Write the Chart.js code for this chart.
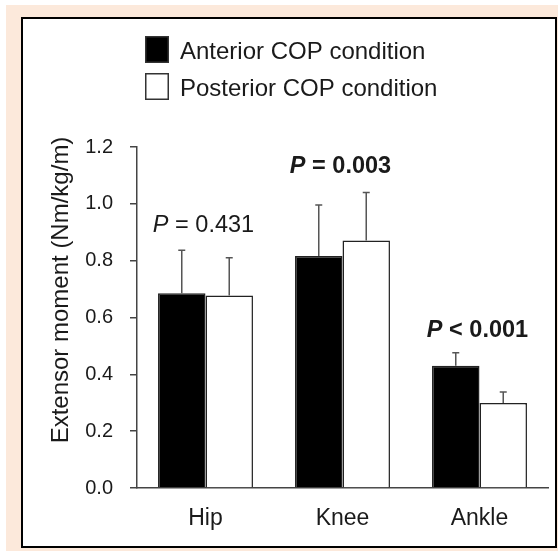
<!DOCTYPE html>
<html>
<head>
<meta charset="utf-8">
<script src="https://cdn.jsdelivr.net/npm/chart.js@4.4.1/dist/chart.umd.min.js"></script>
<style>
  body { margin: 0; background: #fff; width: 558px; height: 551px; overflow: hidden; }
  #peach { position: absolute; left: 6px; top: 5px; width: 552px; height: 546px; background: #fce9db; }
  #box { position: absolute; left: 21px; top: 17px; width: 536px; height: 531px; box-sizing: border-box; border: 2px solid #000; background: #fff; }
  #grafMomento { position: absolute; left: 0; top: 0; }
</style>
</head>
<body>
<div id="peach"></div>
<div id="box"></div>
<canvas id="grafMomento" width="558" height="551"></canvas>
<script>
// categorias y valores
const categorias = ['Hip', 'Knee', 'Ankle']
const anteriorMedia = [0.685, 0.816, 0.430]
const anteriorDE = [0.152, 0.180, 0.046]
const posteriorMedia = [0.677, 0.871, 0.299]
const posteriorDE = [0.133, 0.169, 0.039]
const pTexto = [' = 0.431', ' = 0.003', ' < 0.001']
const pNegrita = [false, true, true]
const pAltura = [0.90, 1.11, 0.53]
const yMin = 0
const yMax = 1.2
const yPaso = 0.2

const fuente = '"Liberation Sans", Arial, sans-serif'
const colorTexto = '#1a1a1a'
const colorLinea = '#444'

// barras de error (solo hacia arriba)
const barrasError = {
    id: 'barrasError',
    afterDatasetsDraw(chart) {
        const ctx = chart.ctx
        const y = chart.scales.y
        const desv = [anteriorDE, posteriorDE]
        ctx.save()
        ctx.strokeStyle = '#555'
        ctx.lineWidth = 1.5
        chart.data.datasets.forEach((ds, i) => {
            chart.getDatasetMeta(i).data.forEach((bar, j) => {
                let yTop = y.getPixelForValue(ds.data[j] + desv[i][j])
                ctx.beginPath()
                ctx.moveTo(bar.x, bar.y)
                ctx.lineTo(bar.x, yTop)
                ctx.moveTo(bar.x - 3.5, yTop)
                ctx.lineTo(bar.x + 3.5, yTop)
                ctx.stroke()
            })
        })
        ctx.restore()
    }
}

// leyenda, textos P y titulo del eje
const textos = {
    id: 'textos',
    afterDraw(chart) {
        const ctx = chart.ctx
        const x = chart.scales.x
        const y = chart.scales.y
        ctx.save()
        ctx.fillStyle = colorTexto

        // leyenda
        chart.data.datasets.forEach((ds, i) => {
            let top = 36 + i * 37
            ctx.fillStyle = ds.backgroundColor
            ctx.fillRect(145, top, 24, 27)
            ctx.strokeStyle = '#333'
            ctx.lineWidth = 1.5
            ctx.strokeRect(145.75, top + 0.75, 22.5, 25.5)
            ctx.fillStyle = colorTexto
            ctx.font = '24px ' + fuente
            ctx.textAlign = 'left'
            ctx.textBaseline = 'alphabetic'
            ctx.fillText(ds.label, 180, top + 23)
        })

        // valores P
        categorias.forEach((c, j) => {
            let peso = pNegrita[j] ? 'bold ' : ''
            let fP = 'italic ' + peso + '23.5px ' + fuente
            let fR = peso + '23.5px ' + fuente
            ctx.font = fP
            let wP = ctx.measureText('P').width
            ctx.font = fR
            let wR = ctx.measureText(pTexto[j]).width
            let cx = x.getPixelForValue(j) - 2
            let by = y.getPixelForValue(pAltura[j])
            let x0 = cx - (wP + wR) / 2
            ctx.textAlign = 'left'
            ctx.textBaseline = 'alphabetic'
            ctx.font = fP
            ctx.fillText('P', x0, by)
            ctx.font = fR
            ctx.fillText(pTexto[j], x0 + wP, by)
        })

        // titulo eje y
        ctx.translate(61, 290)
        ctx.rotate(-Math.PI / 2)
        ctx.font = '24px ' + fuente
        ctx.textAlign = 'center'
        ctx.textBaseline = 'middle'
        ctx.fillText('Extensor moment (Nm/kg/m)', 0, 0)
        ctx.restore()
    }
}

let grafMomento = document.getElementById('grafMomento')

let tablaMomento = new Chart(grafMomento, {
    type: 'bar',
    data: {
        labels: categorias,
        datasets: [{
            label: 'Anterior COP condition',
            backgroundColor: '#000',
            borderColor: '#222',
            borderWidth: 1.5,
            data: anteriorMedia,
        },
        {
            label: 'Posterior COP condition',
            backgroundColor: '#fff',
            borderColor: '#222',
            borderWidth: 1.5,
            data: posteriorMedia,
        }]
    },
    options: {
        responsive: false,
        animation: false,
        devicePixelRatio: 1,
        categoryPercentage: 0.693,
        barPercentage: 1,
        layout: {
            padding: { top: 147, right: 10, bottom: 0, left: 0 }
        },
        plugins: {
            legend: { display: false },
            tooltip: { enabled: false },
        },
        scales: {
            x: {
                afterFit(scale) { scale.height = 63 },
                grid: { display: true, drawOnChartArea: false, drawTicks: false },
                border: { display: true, color: colorLinea, width: 1.5 },
                ticks: {
                    color: colorTexto,
                    padding: 17,
                    font: { family: fuente, size: 23 },
                },
            },
            y: {
                min: yMin,
                max: yMax,
                afterFit(scale) { scale.width = 137 },
                grid: {
                    drawOnChartArea: false,
                    drawTicks: true,
                    tickLength: 7,
                    color: colorLinea,
                    lineWidth: 1.5,
                },
                border: { display: true, color: colorLinea, width: 1.5 },
                ticks: {
                    stepSize: yPaso,
                    padding: 17,
                    color: colorTexto,
                    font: { family: fuente, size: 20 },
                    callback: v => v.toFixed(1),
                },
            },
        },
    },
    plugins: [barrasError, textos]
})
</script>
</body>
</html>
